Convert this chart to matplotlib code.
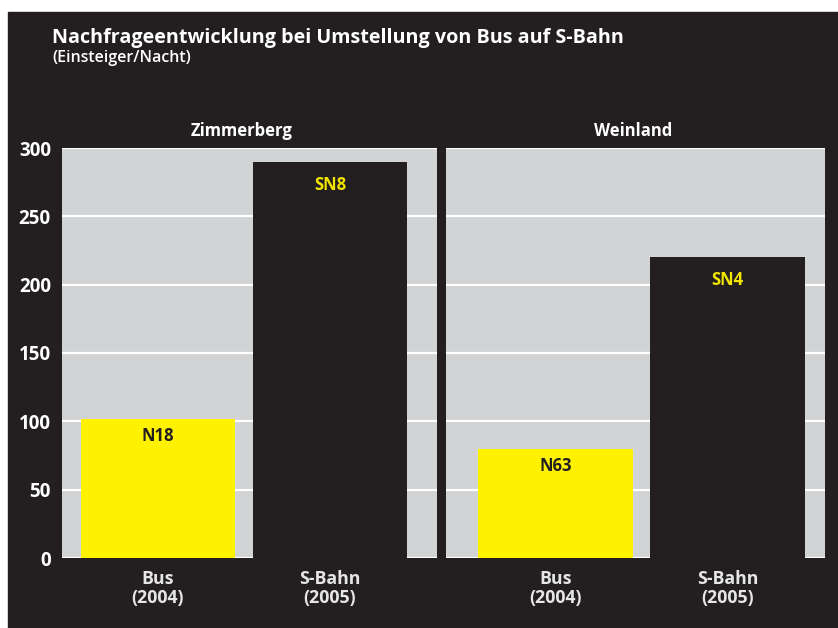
import matplotlib
matplotlib.use("Agg")
import matplotlib.pyplot as plt
from matplotlib.patches import Rectangle

plt.rcParams['font.family'] = ['Open Sans', 'DejaVu Sans']

# data
regions = ['Zimmerberg', 'Weinland']
categories = ['Bus\n(2004)', 'S-Bahn\n(2005)']
values = {'Zimmerberg': [102, 290], 'Weinland': [80, 220]}
lines = {'Zimmerberg': ['N18', 'SN8'], 'Weinland': ['N63', 'SN4']}
yticks = [0, 50, 100, 150, 200, 250, 300]

dark = '#231f20'
grey = '#d1d3d4'
yellow = '#fff200'
W, H = 838, 628

fig = plt.figure(figsize=(W / 100, H / 100), dpi=100, facecolor='white')
fig.patches.append(Rectangle((8 / W, 0), 1 - 8 / W, 1 - 12 / H,
                             transform=fig.transFigure, color=dark, zorder=-1))

fig.text(52 / W, 1 - 43 / H, 'Nachfrageentwicklung bei Umstellung von Bus auf S-Bahn',
         color='white', fontsize=14.2, fontweight='bold', va='baseline')
fig.text(52 / W, 1 - 62 / H, '(Einsteiger/Nacht)', color='white', fontsize=11.5,
         fontweight='semibold', va='baseline')

# panel boxes in pixels: left, right, title x, and the x limits that reproduce the padding
boxes = {'Zimmerberg': (62, 437, 0.48, (-0.558, 1.622)),
         'Weinland': (446, 825, 0.495, (-0.637, 1.567))}

for i, reg in enumerate(regions):
    x0, x1, tx, xl = boxes[reg]
    ax = fig.add_axes([x0 / W, 70 / H, (x1 - x0) / W, 410 / H])
    ax.set_facecolor(grey)
    for s in ax.spines.values():
        s.set_visible(False)
    ax.set_ylim(0, 300)
    ax.set_xlim(*xl)
    ax.set_yticks(yticks)
    ax.yaxis.grid(True, color='white', lw=1.6)
    ax.set_axisbelow(True)
    ax.tick_params(length=0, colors='white', labelsize=13.5)
    if i == 0:
        ax.set_yticklabels([str(t) for t in yticks], fontweight='bold')
        ax.tick_params(axis='y', pad=8)
    else:
        ax.set_yticklabels([])
    x = [0, 1]
    ax.bar(x, values[reg], width=0.9, color=[yellow, dark], zorder=3)
    ax.set_xticks(x)
    ax.set_xticklabels(categories, fontweight='bold', color='#e6e6e6', fontsize=12.8,
                       linespacing=1.0)
    ax.tick_params(axis='x', pad=9)
    for xi, v, lab, c in zip(x, values[reg], lines[reg], ['#231f20', '#f2e600']):
        ax.annotate(lab, (xi, v), xytext=(0, -6 if c == '#231f20' else -10),
                    textcoords='offset points', ha='center', va='top',
                    color=c, fontsize=12, fontweight='bold', zorder=4)
    ax.set_title(reg, color='white', fontsize=12, fontweight='bold', pad=9, x=tx)

fig.savefig('out.png', dpi=100, facecolor=fig.get_facecolor())
